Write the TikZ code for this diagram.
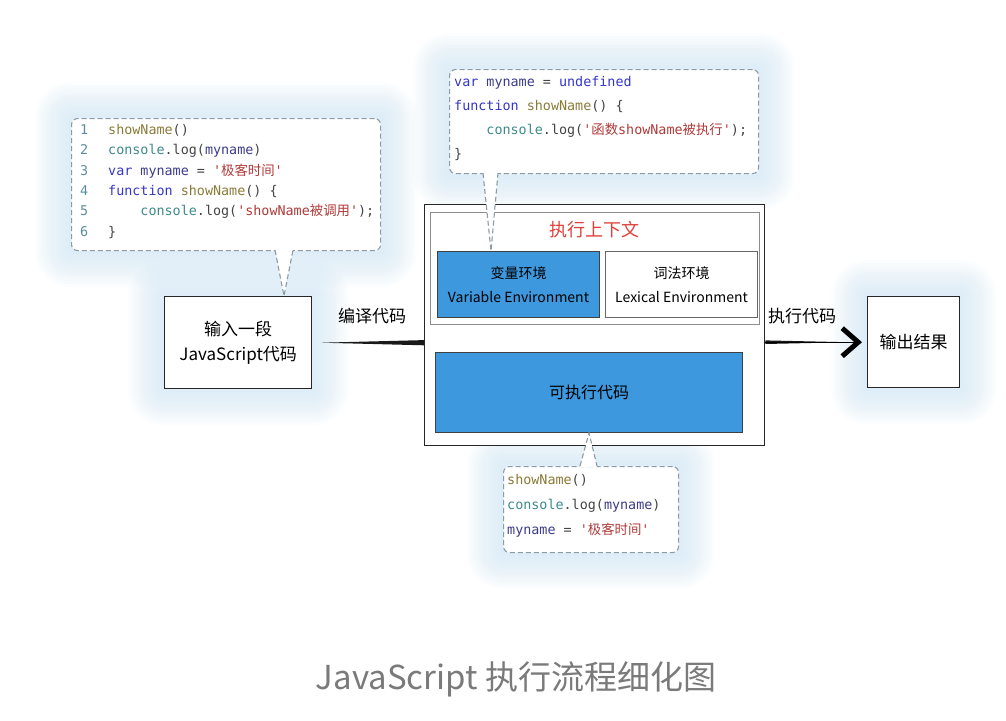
\documentclass[tikz,border=0pt]{standalone}
\usepackage{fontspec}
\setmonofont{DejaVu Sans Mono}
\newfontfamily\cjk{Noto Sans CJK SC}
\usetikzlibrary{arrows.meta,backgrounds,calc}
\definecolor{kwblue}{HTML}{3535C8}
\definecolor{fnolive}{HTML}{8A7A38}
\definecolor{objteal}{HTML}{3E8A8C}
\definecolor{varnavy}{HTML}{3C3C8A}
\definecolor{strred}{HTML}{B03A3A}
\definecolor{codegray}{HTML}{444444}
\definecolor{lnteal}{HTML}{5A8E9E}
\definecolor{bubgray}{HTML}{8C9CA4}
\definecolor{envblue}{HTML}{3D98DD}
\definecolor{glowblue}{HTML}{C6E3F8}
\definecolor{ctxred}{HTML}{E0403A}
\definecolor{capgray}{HTML}{7A7A7A}
\newcommand{\jskw}[1]{\textcolor{kwblue}{#1}}
\newcommand{\jsfn}[1]{\textcolor{fnolive}{#1}}
\newcommand{\jsobj}[1]{\textcolor{objteal}{#1}}
\newcommand{\jsvar}[1]{\textcolor{varnavy}{#1}}
\newcommand{\jsstr}[1]{\textcolor{strred}{#1}}
\begin{document}
\begin{tikzpicture}[x=1pt,y=-1pt,
  bubble/.style={draw=bubgray,dash pattern=on 5pt off 3pt,line width=1.1pt,fill=white,rounded corners=6pt,anchor=north west,inner sep=0pt},
  tail/.style={draw=bubgray,dash pattern=on 5pt off 3pt,line width=1.1pt},
  codeline/.style={anchor=west,inner sep=0pt,text height=10pt,text depth=3pt,font=\ttfamily\fontsize{13.4}{16}\selectfont,text=codegray},
  lnum/.style={codeline,text=lnteal},
  box/.style={draw=black!85,line width=1.4pt,fill=white,anchor=north west,inner sep=0pt,align=center,font=\cjk\fontsize{17}{25}\selectfont},
  env/.style={draw=black!75,line width=1pt,anchor=north west,inner sep=0pt,align=center,font=\cjk\fontsize{14}{24}\selectfont},
  flowlabel/.style={font=\cjk\fontsize{17}{20}\selectfont}]
\useasboundingbox (0,0) rectangle (1006,720);
\begin{scope}[on background layer]
\fill[white] (0,0) rectangle (1006,720);
\end{scope}

% main execution box
\node[box,minimum width=340,minimum height=241] (main) at (424,204) {};
\node[draw=black!45,line width=1pt,anchor=north west,minimum width=329,minimum height=112,inner sep=0pt] (ctx) at (430,212) {};
\node[font=\cjk\fontsize{18}{20}\selectfont,text=ctxred] (ctxlabel) at (594,230) {执行上下文};
\node[env,fill=envblue,minimum width=162,minimum height=66] (varenv) at (437,251) {变量环境\\Variable Environment};
\node[env,fill=white,draw=black!60,minimum width=152,minimum height=66] (lexenv) at (605,251) {词法环境\\Lexical Environment};
\node[env,fill=envblue,minimum width=307,minimum height=80,font=\cjk\fontsize{16}{20}\selectfont] (exec) at (435,352) {可执行代码};

% input and output
\node[box,minimum width=147,minimum height=92] (inbox) at (164,296) {输入一段\\JavaScript代码};
\node[box,minimum width=92,minimum height=91] (outbox) at (867,296) {输出结果};

\fill[black!90] ($(inbox.east)+(9pt,0)$) -- ($(inbox.east -| main.west)+(0,2.6pt)$) -- ($(inbox.east -| main.west)+(0,-2.6pt)$) -- cycle;
\node[flowlabel] (compile) at (372,316) {编译代码};
\fill[black!90] ($(main.east |- outbox.west)+(0,1.8pt)$) -- ($(outbox.west)+(-20pt,0)$) -- ($(main.east |- outbox.west)+(0,-1.8pt)$) -- cycle;
\draw[line width=0.8pt,-{Straight Barb[length=16pt,width=28pt,line width=5pt]},shorten >=5pt] (main.east |- outbox.west) -- (outbox.west);
\node[flowlabel] (run) at (802,316) {执行代码};

% source code bubble
\node[bubble,minimum width=309,minimum height=132] (codeA) at (71,118) {};
\coordinate (tailA1) at (275,249);
\coordinate (tailA2) at (293,249);
\coordinate (tipA) at (284,296);
\fill[white] (tailA1) -- (tipA) -- (tailA2) -- cycle;
\draw[tail] ($(tailA1)+(0,1)$) -- (tipA) -- ($(tailA2)+(0,1)$);
\foreach \code [count=\i] in {
  {\jsfn{showName}()},
  {\jsobj{console}.log(\jsvar{myname})},
  {\jskw{var} \jsvar{myname} = \jsstr{'{\cjk 极客时间}'}},
  {\jskw{function} \jsfn{showName}() \{},
  {\phantom{xxxx}\jsobj{console}.log(\jsstr{'showName{\cjk 被调用}'});},
  {\}}} {
  \node[lnum] (lnA\i) at (80,{110.7+20.3*\i}) {\i};
  \node[codeline] (lcA\i) at (108,{110.7+20.3*\i}) {\code};
}

% variable environment bubble
\node[bubble,minimum width=309,minimum height=104] (codeB) at (449,69) {};
\coordinate (tailB1) at (483,172);
\coordinate (tailB2) at (498,172);
\coordinate (tipB) at (491,251);
\fill[white] (tailB1) -- (tipB) -- (tailB2) -- cycle;
\draw[tail] ($(tailB1)+(0,1)$) -- (tipB) -- ($(tailB2)+(0,1)$);
\foreach \code [count=\i] in {
  {\jskw{var} \jsvar{myname} = \jskw{undefined}},
  {\jskw{function} \jsfn{showName}() \{},
  {\phantom{xxxx}\jsobj{console}.log(\jsstr{'{\cjk 函数}showName{\cjk 被执行}'});},
  {\}}} {
  \node[codeline] (lcB\i) at (454,{59+24*\i}) {\code};
}

% executable code bubble
\node[bubble,minimum width=175,minimum height=86] (codeC) at (503,466) {};
\coordinate (tailC1) at (580,467);
\coordinate (tailC2) at (597,467);
\coordinate (tipC) at (589,433);
\fill[white] (tailC1) -- (tipC) -- (tailC2) -- cycle;
\draw[tail] ($(tailC1)+(0,-1)$) -- (tipC) -- ($(tailC2)+(0,-1)$);
\foreach \code [count=\i] in {
  {\jsfn{showName}()},
  {\jsobj{console}.log(\jsvar{myname})},
  {\jsvar{myname} = \jsstr{'{\cjk 极客时间}'}}} {
  \node[codeline] (lcC\i) at (507,{456+25*\i}) {\code};
}

% soft blue glow
\begin{scope}[on background layer]
\foreach \nm in {codeA,inbox,outbox,codeB,codeC}
  \foreach \r in {3,6,...,36}
    \fill[glowblue,opacity=0.06,rounded corners=\r pt] ($(\nm.north west)+(-\r pt,\r pt)$) rectangle ($(\nm.south east)+(\r pt,-\r pt)$);
\end{scope}

\node[font=\cjk\fontsize{33}{38}\selectfont,text=capgray] (caption) at (516,679) {JavaScript 执行流程细化图};
\end{tikzpicture}
\end{document}
